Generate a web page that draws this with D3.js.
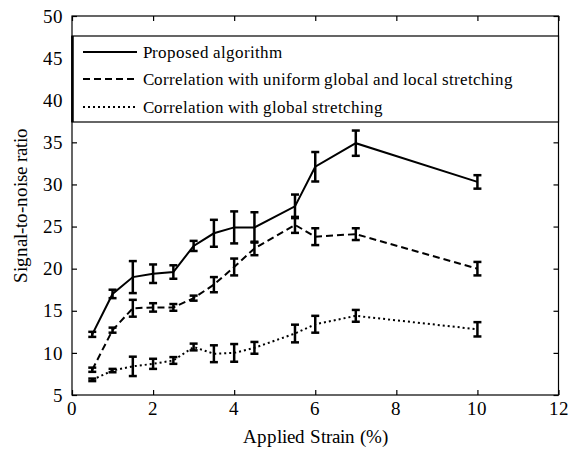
<!DOCTYPE html>
<html><head><meta charset="utf-8">
<script src="https://cdn.jsdelivr.net/npm/d3@7"></script>
<style>
@font-face { font-family: 'ChartSerif'; src: local('Liberation Serif'), local('LiberationSerif'), local('Liberation Serif Regular'), local('LiberationSerif-Regular'); }
</style>
</head><body style="margin:0">
<svg id="c" width="571" height="452"></svg>
<script>
const strain = [0.5, 1, 1.5, 2, 2.5, 3, 3.5, 4, 4.5, 5.5, 6, 7, 10];
const proposed = [12.2, 17.0, 19.0, 19.4, 19.6, 22.7, 24.2, 24.9, 24.9, 27.4, 32.1, 34.9, 30.3];
const proposedErr = [0.3, 0.5, 1.9, 1.1, 0.8, 0.6, 1.6, 1.9, 1.8, 1.4, 1.75, 1.5, 0.8];
const uniform = [8.0, 12.7, 15.3, 15.4, 15.4, 16.5, 18.1, 20.2, 22.4, 25.2, 23.8, 24.1, 20.0];
const uniformErr = [0.25, 0.3, 1.0, 0.5, 0.4, 0.3, 0.9, 1.0, 0.8, 0.95, 1.0, 0.7, 0.8];
const globalS = [6.8, 7.9, 8.4, 8.7, 9.1, 10.7, 9.9, 10.0, 10.6, 12.3, 13.4, 14.4, 12.8];
const globalErr = [0.15, 0.2, 1.15, 0.6, 0.4, 0.4, 1.0, 1.05, 0.7, 1.05, 1.0, 0.7, 0.85];
const seriesNames = ["Proposed algorithm", "Correlation with uniform global and local stretching", "Correlation with global stretching"];
const dashes = [null, "7,4", "2,3"];
const xTicks = [0, 2, 4, 6, 8, 10, 12];
const yTicks = [5, 10, 15, 20, 25, 30, 35, 40, 45, 50];

const svg = d3.select("#c");
const L = 72, R = 558.5, T = 16, B = 395;
const x = d3.scaleLinear().domain([0, 12]).range([L, R]);
const y = d3.scaleLinear().domain([5, 50]).range([B, T]);
const FF = "ChartSerif, 'Liberation Serif', Tinos, Times, serif";
const fs = 19;

svg.append("rect").attr("x", L).attr("y", T).attr("width", R - L).attr("height", B - T)
  .attr("fill", "none").attr("stroke", "#000").attr("stroke-width", 1.2);

const xb = svg.append("g").attr("transform", `translate(0,${B})`)
  .call(d3.axisBottom(x).tickValues(xTicks).tickSize(-5).tickFormat(""));
const xt = svg.append("g").attr("transform", `translate(0,${T})`)
  .call(d3.axisTop(x).tickValues(xTicks).tickSize(-5).tickFormat(""));
const yl = svg.append("g").attr("transform", `translate(${L},0)`)
  .call(d3.axisLeft(y).tickValues(yTicks).tickSize(-5).tickFormat(""));
const yr = svg.append("g").attr("transform", `translate(${R},0)`)
  .call(d3.axisRight(y).tickValues(yTicks).tickSize(-5).tickFormat(""));
[xb, xt, yl, yr].forEach(g => {
  g.attr("font-family", null).attr("font-size", null);
  g.select(".domain").remove();
  g.selectAll("text").remove();
  g.selectAll("line").attr("stroke", "#000").attr("stroke-width", 1.2);
});

function label(sel) {
  return sel.attr("font-family", FF).style("font-family", FF).attr("fill", "#000");
}
xTicks.forEach(v => {
  label(svg.append("text")).attr("x", x(v)).attr("y", B + 20).attr("text-anchor", "middle")
    .style("font-size", fs + "px").text(v);
});
yTicks.forEach(v => {
  label(svg.append("text")).attr("x", L - 9).attr("y", y(v)).attr("dy", "0.35em").attr("text-anchor", "end")
    .style("font-size", fs + "px").text(v);
});

label(svg.append("text")).attr("x", (L + R) / 2).attr("y", 443).attr("text-anchor", "middle")
  .style("font-size", fs + "px").text("Applied Strain (%)");
label(svg.append("text")).attr("transform", `translate(27,${(T + B) / 2}) rotate(-90)`)
  .attr("text-anchor", "middle").style("font-size", fs + "px").text("Signal-to-noise ratio");

const all = [[proposed, proposedErr], [uniform, uniformErr], [globalS, globalErr]];
const line = d3.line().x(d => x(d[0])).y(d => y(d[1]));
all.forEach(([vals, errs], i) => {
  const pts = strain.map((s, k) => [s, vals[k], errs[k]]);
  svg.append("path").datum(pts).attr("d", line).attr("fill", "none")
    .attr("stroke", "#000").attr("stroke-width", 2)
    .attr("stroke-dasharray", dashes[i]);
  const g = svg.append("g").attr("stroke", "#000").attr("stroke-width", 2.5);
  pts.forEach(p => {
    const cx = x(p[0]), y0 = y(p[1] - p[2]), y1 = y(p[1] + p[2]);
    g.append("line").attr("x1", cx).attr("x2", cx).attr("y1", y0).attr("y2", y1);
    g.append("line").attr("x1", cx - 4).attr("x2", cx + 4).attr("y1", y0).attr("y2", y0);
    g.append("line").attr("x1", cx - 4).attr("x2", cx + 4).attr("y1", y1).attr("y2", y1);
  });
});

svg.append("rect").attr("x", L).attr("y", 36).attr("width", R - L).attr("height", 86)
  .attr("fill", "#fff").attr("stroke", "#000").attr("stroke-width", 1.2);
svg.append("line").attr("x1", L + 0.5).attr("x2", L + 0.5).attr("y1", 36).attr("y2", 122)
  .attr("stroke", "#000").attr("stroke-width", 2.5);
const rows = [52, 79, 107];
seriesNames.forEach((n, i) => {
  svg.append("line").attr("x1", 83).attr("x2", 137).attr("y1", rows[i]).attr("y2", rows[i])
    .attr("stroke", "#000").attr("stroke-width", 2).attr("stroke-dasharray", dashes[i]);
  label(svg.append("text")).attr("x", 143).attr("y", rows[i]).attr("dy", "0.35em")
    .style("font-size", "17px").text(n);
});
</script>
</body></html>
